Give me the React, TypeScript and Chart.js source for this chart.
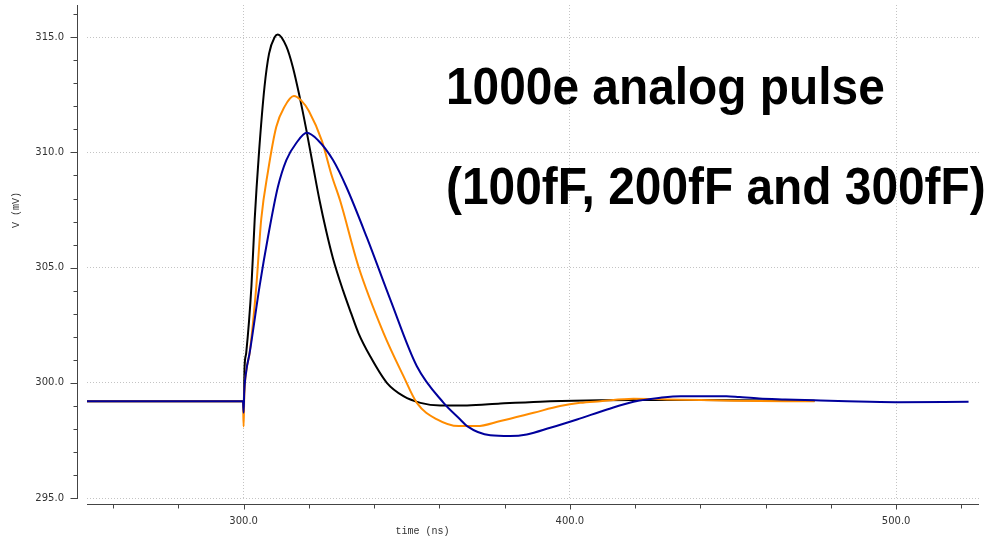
import React, { useEffect, useRef } from 'react';
import { Chart, registerables } from 'chart.js';

Chart.register(...registerables);

// ---- data (time in ns, voltage in mV) ----
const blackT = [252, 299.8, 300.0, 300.3, 300.8, 302.4, 303.4, 304.7, 306.4, 307.8, 309.5, 310.5, 313.1, 315.1, 317.2, 319.2, 321.3, 323.3, 325.3, 327.4, 330.5, 333.0, 335.2, 338.8, 343.9, 349.0, 354.2, 360.3, 368.5, 378.7, 390.9, 405.2, 420.0, 440.0, 475.0];
const blackV = [299.2, 299.2, 298.9, 300.7, 301.3, 304.2, 307.1, 309.96, 312.84, 314.29, 315.0, 315.12, 314.6, 313.7, 312.4, 311.0, 309.4, 307.9, 306.6, 305.4, 304.0, 303.0, 302.16, 301.15, 300.0, 299.42, 299.13, 299.02, 299.02, 299.1, 299.18, 299.23, 299.25, 299.25, 299.22];

const orangeT = [252, 299.8, 300.0, 300.2, 300.8, 301.85, 303.9, 305.4, 307.5, 310.0, 312.6, 315.4, 317.7, 320.0, 324.0, 327.0, 329.6, 335.2, 342.9, 349.0, 353.1, 359.3, 365.9, 371.5, 378.7, 388.9, 397.0, 403.2, 409.3, 419.5, 429.7, 440.0, 450.0, 475.0];
const orangeV = [299.2, 299.2, 298.1, 299.4, 300.5, 301.3, 304.2, 307.1, 309.2, 311.1, 312.0, 312.45, 312.25, 311.8, 310.5, 309.0, 307.9, 305.05, 302.16, 300.29, 299.13, 298.41, 298.12, 298.12, 298.34, 298.7, 298.99, 299.13, 299.2, 299.31, 299.28, 299.25, 299.22, 299.2];

const blueT = [252, 299.8, 300.0, 300.2, 300.8, 301.85, 304.9, 307.5, 310.5, 313.1, 316.1, 319.4, 322.8, 327.4, 331.5, 337.8, 345.0, 353.1, 361.3, 366.4, 368.5, 375.6, 381.7, 386.8, 394.0, 402.2, 411.4, 419.5, 427.7, 434.0, 440.0, 448.0, 452.0, 458.0, 466.0, 475.0, 485.0, 500.0, 522.2];
const blueV = [299.2, 299.2, 298.7, 299.6, 300.5, 301.3, 304.2, 306.35, 308.5, 309.67, 310.4, 310.85, 310.53, 309.67, 308.5, 306.3, 303.6, 300.72, 299.13, 298.41, 298.12, 297.72, 297.69, 297.76, 298.05, 298.41, 298.84, 299.18, 299.35, 299.42, 299.42, 299.42, 299.38, 299.32, 299.28, 299.24, 299.2, 299.16, 299.18];

const seriesNames = ['300fF', '200fF', '100fF'];
const seriesColors = ['#00009c', '#ff8c00', '#000000'];

const xMajor = [300, 400, 500];
const yMajor = [295, 300, 305, 310, 315];
const X_MIN = 252;
const X_MAX = 525.4;
const Y_MIN = 295;
const Y_MAX = 316.4;
const xTitle = 'time (ns)';
const yTitle = 'V (mV)';
const titleLines = ['1000e analog pulse', '(100fF, 200fF and 300fF)'];

const toPoints = (t: number[], v: number[]) => t.map((x, i) => ({ x, y: v[i] }));

const overlayPlugin = {
  id: 'overlay',
  afterDraw(chart: any) {
    const ctx = chart.ctx;
    const { left, right, top, bottom } = chart.chartArea;
    const xs = chart.scales.x;
    const ys = chart.scales.y;
    ctx.save();
    ctx.strokeStyle = '#444';
    ctx.lineWidth = 1;
    const ax = left - 10 + 0.5;
    const ay = bottom + 6 + 0.5;
    ctx.beginPath();
    ctx.moveTo(ax, top);
    ctx.lineTo(ax, bottom + 1);
    ys.ticks.forEach((t: any) => {
      const p = Math.round(ys.getPixelForValue(t.value)) + 0.5;
      const len = yMajor.includes(t.value) ? 7 : 4;
      ctx.moveTo(ax - len, p);
      ctx.lineTo(ax, p);
    });
    ctx.moveTo(left, ay);
    ctx.lineTo(right, ay);
    xs.ticks.forEach((t: any) => {
      const p = Math.round(xs.getPixelForValue(t.value)) + 0.5;
      const len = xMajor.includes(t.value) ? 5 : 4;
      ctx.moveTo(p, ay);
      ctx.lineTo(p, ay + len);
    });
    ctx.stroke();

    // axis titles
    ctx.fillStyle = '#333';
    ctx.font = '10px "Liberation Mono"';
    ctx.textAlign = 'center';
    ctx.textBaseline = 'middle';
    ctx.fillText(xTitle, 422.5, 531.5);
    ctx.save();
    ctx.translate(16, 210);
    ctx.rotate(-Math.PI / 2);
    ctx.fillText(yTitle, 0, 0);
    ctx.restore();

    // big annotation
    ctx.fillStyle = '#000';
    ctx.font = 'bold 52px "Liberation Sans", Arial, sans-serif';
    ctx.textAlign = 'left';
    ctx.textBaseline = 'alphabetic';
    const baselines = [103.5, 204];
    titleLines.forEach((line, i) => {
      ctx.save();
      ctx.translate(446, baselines[i]);
      ctx.scale(0.92, 1);
      ctx.fillText(line, 0, 0);
      ctx.restore();
    });
    ctx.restore();
  },
};

const zeroPad = (s: any) => {
  s.paddingTop = 0;
  s.paddingBottom = 0;
  s.paddingLeft = 0;
  s.paddingRight = 0;
};

export default function App() {
  const ref = useRef<HTMLCanvasElement | null>(null);
  useEffect(() => {
    if (!ref.current) return;
    const chart = new Chart(ref.current, {
      type: 'line',
      data: {
        datasets: [
          { label: seriesNames[0], data: toPoints(blueT, blueV), borderColor: seriesColors[0] },
          { label: seriesNames[1], data: toPoints(orangeT, orangeV), borderColor: seriesColors[1] },
          { label: seriesNames[2], data: toPoints(blackT, blackV), borderColor: seriesColors[2] },
        ].map((d) => ({
          ...d,
          borderWidth: 2,
          pointRadius: 0,
          fill: false,
          cubicInterpolationMode: 'monotone' as const,
        })),
      },
      options: {
        animation: false,
        responsive: true,
        maintainAspectRatio: false,
        layout: { padding: { top: 5, right: 8, left: 0, bottom: 0 } },
        plugins: { legend: { display: false }, tooltip: { enabled: false }, title: { display: false } },
        scales: {
          x: {
            type: 'linear',
            min: X_MIN,
            max: X_MAX,
            afterFit: (s: any) => { s.height = 42; zeroPad(s); },
            border: { display: false, dash: [1, 2] },
            grid: {
              drawTicks: false,
              lineWidth: 1,
              color: (c: any) => (c.tick && xMajor.includes(c.tick.value) ? '#c4c4c4' : 'rgba(0,0,0,0)'),
            },
            ticks: {
              stepSize: 20,
              autoSkip: false,
              includeBounds: false,
              maxRotation: 0,
              padding: 17,
              color: '#333',
              font: { family: '"DejaVu Sans"', size: 10 },
              callback: (v: any) => (xMajor.includes(Number(v)) ? Number(v).toFixed(1) : ''),
            },
          },
          y: {
            type: 'linear',
            min: Y_MIN,
            max: Y_MAX,
            afterFit: (s: any) => { s.width = 87; zeroPad(s); },
            border: { display: false, dash: [1, 2] },
            grid: {
              drawTicks: false,
              lineWidth: 1,
              color: (c: any) => (c.tick && yMajor.includes(c.tick.value) ? '#c4c4c4' : 'rgba(0,0,0,0)'),
            },
            ticks: {
              stepSize: 1,
              autoSkip: false,
              includeBounds: false,
              padding: 23,
              color: '#333',
              font: { family: '"DejaVu Sans"', size: 10 },
              callback: (v: any) => (yMajor.includes(Number(v)) ? Number(v).toFixed(1) : ''),
            },
          },
        },
      },
      plugins: [overlayPlugin],
    });
    return () => chart.destroy();
  }, []);
  return (
    <div style={{ position: 'absolute', left: 0, top: 0, width: 987, height: 540, background: '#fff' }}>
      <canvas ref={ref} />
    </div>
  );
}
